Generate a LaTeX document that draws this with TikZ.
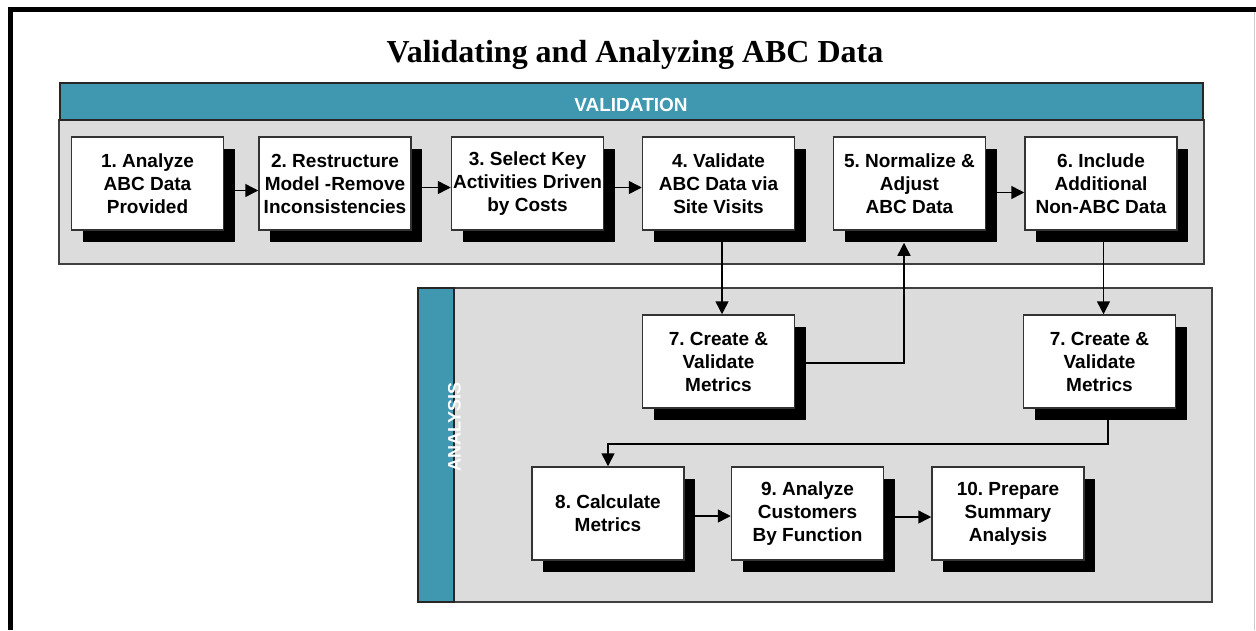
\documentclass[tikz,border=0pt]{standalone}
\usepackage{fontspec}
\setmainfont{Liberation Serif}
\newfontfamily\arialf{Liberation Sans}
\usetikzlibrary{arrows.meta,shadows}
\definecolor{tealbar}{HTML}{3F97B0}
\definecolor{panelgray}{HTML}{DCDCDC}
\frenchspacing
\begin{document}
\begin{tikzpicture}[x=1pt,y=-1pt,
  stepbox/.style={draw=black!80, line width=1.5pt, fill=white,
    minimum width=152pt, minimum height=93pt, inner sep=0pt, align=center,
    font=\arialf\bfseries\fontsize{19}{23}\selectfont\frenchspacing,
    drop shadow={shadow xshift=11pt, shadow yshift=-12pt, fill=black, opacity=1}},
  arr/.style={line width=1.5pt, -{Triangle[length=13pt,width=13pt]}},
  panel/.style={draw=black!75, line width=2pt, fill=panelgray},
  bar/.style={draw=black!85, line width=2pt, fill=tealbar},
  barlabel/.style={text=white, inner sep=0pt, font=\arialf\bfseries\fontsize{19}{22}\selectfont},
]
\useasboundingbox (0,0) rectangle (1256,630);
\fill[white] (0,0) rectangle (1256,630);
% outer frame
\draw[line width=5pt] (10.5,630) -- (10.5,9.5) -- (1256,9.5);
\draw[black!20, line width=1pt] (1254,12) -- (1254,630);

% title
\node[anchor=base, font=\bfseries\fontsize{32}{36}\selectfont] (title) at (635,62) {Validating and Analyzing ABC Data};

% validation panel
\draw[panel] (59,120) rectangle (1204,264);
\draw[bar] (60,83) rectangle (1203,120);
\node[barlabel] (vallabel) at (631,104.5) {VALIDATION};

% analysis panel
\draw[panel] (418,288) rectangle (1212,602);
\draw[bar] (418,288) rectangle (454,602);
\node[barlabel, rotate=90, font=\arialf\bfseries\fontsize{18}{20}\selectfont] (anlabel) at (454.5,427) {ANALYSIS};

% boxes, row 1
\node[stepbox] (b1) at (147.5,183.5) {1. Analyze\\ABC Data\\Provided};
\node[stepbox] (b2) at (335,183.5) {2. Restructure\\Model -Remove\\Inconsistencies};
\node[stepbox] (b3) at (527.5,183.5) {3. Select Key\\Activities Driven\\by Costs};
\node[stepbox] (b4) at (718.5,183.5) {4. Validate\\ABC Data via\\Site Visits};
\node[stepbox] (b5) at (909.5,183.5) {5. Normalize \&\\Adjust\\ABC Data};
\node[stepbox] (b6) at (1101,183.5) {6. Include\\Additional\\Non-ABC Data};

% analysis boxes
\node[stepbox] (b7a) at (718.5,361.5) {7. Create \&\\Validate\\Metrics};
\node[stepbox] (b7b) at (1099.5,361.5) {7. Create \&\\Validate\\Metrics};
\node[stepbox] (b8) at (608,513.5) {8. Calculate\\Metrics};
\node[stepbox] (b9) at (807.5,513.5) {9. Analyze\\Customers\\By Function};
\node[stepbox] (b10) at (1008,513.5) {10. Prepare\\Summary\\Analysis};

% connectors
\draw[arr] ([yshift=-7pt]b1.east) -- ([yshift=-7pt]b2.west);
\draw[arr] ([yshift=-4pt]b2.east) -- ([yshift=-4pt]b3.west);
\draw[arr] ([yshift=-4pt]b3.east) -- ([yshift=-4pt]b4.west);
\draw[arr] ([yshift=-9pt]b5.east) -- ([yshift=-9pt]b6.west);
\draw[arr] ([xshift=3.5pt]b4.south) -- ([xshift=3.5pt]b7a.north);
\draw[arr] ([yshift=-1.5pt]b7a.east) -| ([xshift=-5.5pt,yshift=-12pt]b5.south);
\draw[arr] ([xshift=2.5pt]b6.south) -- ([xshift=4pt]b7b.north);
\draw[arr] ([xshift=8.5pt]b7b.south) -- ++(0,35) -| (b8.north);
\draw[arr] ([yshift=-2.5pt]b8.east) -- ([yshift=-2.5pt]b9.west);
\draw[arr] ([yshift=-3.5pt]b9.east) -- ([yshift=-3.5pt]b10.west);
\end{tikzpicture}
\end{document}
